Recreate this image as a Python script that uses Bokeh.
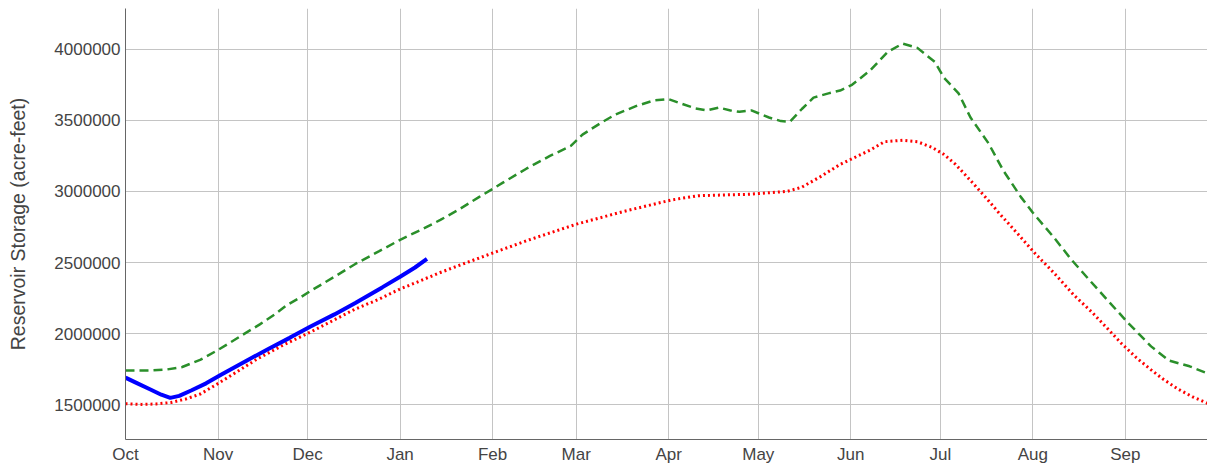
from bokeh.plotting import figure
from bokeh.models import FixedTicker, BasicTickFormatter, Range1d
from bokeh.embed import file_html
from bokeh.resources import INLINE

# Water-year months (day index counted from Oct 1)
month_labels = ["Oct", "Nov", "Dec", "Jan", "Feb", "Mar", "Apr", "May", "Jun", "Jul", "Aug", "Sep"]
month_start_days = [0, 31, 61, 92, 123, 151, 182, 212, 243, 273, 304, 335]
y_ticks = [1500000, 2000000, 2500000, 3000000, 3500000, 4000000]

# Green dashed series
high_days = [0, 8, 14, 19, 25, 31, 38, 45, 50, 54, 59, 62, 70, 77, 85, 92, 99, 105.5, 111.5, 118.4,
             126.3, 134.3, 142.2, 149.2, 153.1, 159.1, 164.0, 171.0, 176.9, 181.9, 185.9, 190.8,
             194.8, 198.8, 202.7, 205.7, 209.7, 215.6, 219.6, 222.6, 226.6, 230.5, 235.5, 239.4,
             243.4, 249.4, 255.3, 260.3, 265.3, 271.2, 274.2, 279.1, 283.1, 289.1, 294.0, 300.0,
             304.0, 310.9, 316.9, 322.8, 328.8, 335.7, 343.6, 349.6, 356.5, 362.5]
high_storage = [1740000, 1741000, 1748000, 1765000, 1815000, 1885000, 1975000, 2065000, 2135000,
                2200000, 2260000, 2300000, 2400000, 2490000, 2580000, 2660000, 2730000, 2800000,
                2870000, 2960000, 3060000, 3160000, 3250000, 3320000, 3400000, 3480000, 3540000,
                3600000, 3640000, 3650000, 3620000, 3585000, 3570000, 3590000, 3570000, 3560000,
                3570000, 3520000, 3495000, 3490000, 3580000, 3660000, 3690000, 3710000, 3750000,
                3850000, 3980000, 4040000, 4010000, 3910000, 3800000, 3690000, 3520000, 3340000,
                3150000, 2960000, 2850000, 2680000, 2520000, 2380000, 2240000, 2080000, 1910000,
                1810000, 1770000, 1720000]

# Red dotted series
avg_days = [0, 5.3, 10.3, 15.2, 20.2, 25.1, 31.1, 38.0, 44.0, 52.9, 61.9, 69.8, 76.7, 84.7, 91.6,
            98.6, 105.5, 114.4, 123.4, 135.3, 151.1, 167.0, 182.9, 191.8, 208.7, 221.6, 226.6,
            232.5, 239.4, 243.4, 249.4, 254.3, 260.3, 265.3, 270.2, 274.2, 278.1, 282.1, 288.1,
            293.0, 299.0, 304.9, 310.9, 317.8, 323.8, 328.8, 333.7, 338.7, 343.6, 347.6, 352.6,
            357.5, 362.5]
avg_storage = [1507000, 1502000, 1505000, 1515000, 1540000, 1575000, 1650000, 1740000, 1820000,
               1920000, 2010000, 2095000, 2170000, 2240000, 2310000, 2370000, 2430000, 2500000,
               2570000, 2660000, 2770000, 2860000, 2940000, 2970000, 2980000, 3000000, 3030000,
               3100000, 3190000, 3230000, 3290000, 3350000, 3360000, 3350000, 3310000, 3260000,
               3190000, 3100000, 2960000, 2840000, 2700000, 2560000, 2430000, 2270000, 2150000,
               2040000, 1930000, 1830000, 1745000, 1680000, 1610000, 1555000, 1510000]

# Blue solid series (current year)
cur_days = [0, 4, 8, 12, 15, 18, 22, 27, 32, 41, 48, 55, 62, 70, 77, 86, 92, 97, 101]
cur_storage = [1690000, 1650000, 1610000, 1570000, 1548000, 1562000, 1600000, 1650000, 1710000,
               1815000, 1893000, 1970000, 2050000, 2135000, 2215000, 2325000, 2400000, 2465000,
               2525000]

p = figure(width=1207, height=466, output_backend="svg", toolbar_location=None,
           x_range=Range1d(0, 362.5), y_range=Range1d(1255000, 4287000),
           min_border_left=125, min_border_right=0, min_border_top=8, min_border_bottom=25)
p.outline_line_color = None
p.background_fill_color = "white"

p.line(high_days, high_storage, line_color="#2a8f2a", line_width=2.5, line_dash="9 5")
p.line(avg_days, avg_storage, line_color="#ff0000", line_width=3, line_dash="2 3")
p.line(cur_days, cur_storage, line_color="#0000ff", line_width=4)

font = "Liberation Sans"

xa = p.xaxis[0]
xa.ticker = FixedTicker(ticks=month_start_days)
xa.major_label_overrides = {d: m for d, m in zip(month_start_days, month_labels)}
xa.major_tick_out = 0
xa.major_tick_in = 0
xa.minor_tick_out = 0
xa.minor_tick_in = 0
xa.axis_line_color = "#666666"
xa.major_label_text_font = font
xa.major_label_text_font_size = "17px"
xa.major_label_text_color = "#444444"
xa.major_label_standoff = 5

ya = p.yaxis[0]
ya.ticker = FixedTicker(ticks=y_ticks)
ya.formatter = BasicTickFormatter(use_scientific=False)
ya.major_tick_out = 0
ya.major_tick_in = 0
ya.minor_tick_out = 0
ya.minor_tick_in = 0
ya.axis_line_color = "#666666"
ya.major_label_text_font = font
ya.major_label_text_font_size = "17px"
ya.major_label_text_color = "#444444"
ya.major_label_standoff = 5
ya.axis_label = "Reservoir Storage (acre-feet)"
ya.axis_label_text_font = font
ya.axis_label_text_font_size = "19.5px"
ya.axis_label_text_font_style = "normal"
ya.axis_label_text_color = "#444444"
ya.axis_label_standoff = 22

p.xgrid.grid_line_color = "#c4c4c4"
p.ygrid.grid_line_color = "#c4c4c4"

open("out.html", "w").write(file_html(p, INLINE))
